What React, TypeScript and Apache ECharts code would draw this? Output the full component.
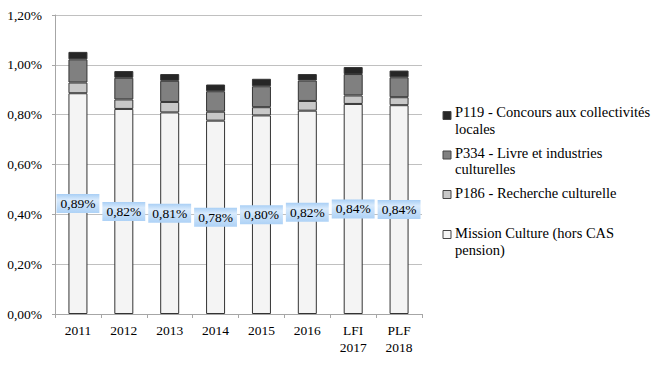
import React, { useEffect, useRef } from "react";
import * as echarts from "echarts";

const categories = ["2011", "2012", "2013", "2014", "2015", "2016", "LFI\n2017", "PLF\n2018"];
const missionCulture = [0.886, 0.823, 0.809, 0.776, 0.797, 0.816, 0.843, 0.838];
const p186 = [0.043, 0.038, 0.042, 0.036, 0.033, 0.039, 0.034, 0.032];
const p334 = [0.093, 0.087, 0.085, 0.082, 0.084, 0.082, 0.086, 0.080];
const p119 = [0.030, 0.027, 0.027, 0.027, 0.030, 0.026, 0.028, 0.027];
const seriesNames = [
  "Mission Culture (hors CAS\npension)",
  "P186 - Recherche culturelle",
  "P334 - Livre et industries\nculturelles",
  "P119 - Concours aux collectivités\nlocales",
];
const seriesColors = ["#f4f4f4", "#c8c8c8", "#808080", "#262626"];
const yTicks = [0, 0.2, 0.4, 0.6, 0.8, 1.0, 1.2];

const FONT = "Liberation Serif";
const fmt = (v: number) => v.toFixed(2).replace(".", ",") + "%";

export default function App() {
  const ref = useRef<HTMLDivElement>(null);
  useEffect(() => {
    document.body.style.margin = "0";
    const chart = echarts.init(ref.current!, null, { renderer: "svg" });
    const values = [missionCulture, p186, p334, p119];
    const series = values.map((d, i) => ({
      name: seriesNames[i],
      type: "bar",
      stack: "total",
      barWidth: 19,
      data: d,
      itemStyle: { color: seriesColors[i], borderColor: "#333333", borderWidth: 1 },
      label:
        i === 0
          ? {
              show: true,
              position: "inside",
              formatter: (p: any) => fmt(p.value),
              fontFamily: FONT,
              fontSize: 13.5,
              color: "#000",
              padding: [3, 4, 2, 4],
              backgroundColor: {
                type: "linear",
                x: 0,
                y: 0,
                x2: 0,
                y2: 1,
                colorStops: [
                  { offset: 0, color: "#a9cff5" },
                  { offset: 0.3, color: "#d8eafc" },
                  { offset: 1, color: "#aed2f6" },
                ],
              },
            }
          : { show: false },
    }));

    const squareCenters = [115.5, 155, 194.5, 234.5];
    const textTops = [104, 144.5, 185, 225];
    const legendRects: any[] = [];
    const legendTitles: any[] = [];
    [3, 2, 1, 0].forEach((si, k) => {
      legendRects.push({
        type: "rect",
        shape: { x: 443, y: squareCenters[k] - 4, width: 8, height: 8 },
        style: { fill: seriesColors[si], stroke: "#444", lineWidth: 1 },
      });
      legendTitles.push({
        text: seriesNames[si],
        left: 455,
        top: textTops[k],
        padding: 0,
        textStyle: {
          fontFamily: FONT,
          fontSize: 14.5,
          fontWeight: "normal",
          color: "#000",
          lineHeight: 16.5,
        },
      });
    });

    chart.setOption({
      animation: false,
      title: legendTitles,
      grid: { left: 55, right: 239, top: 15, bottom: 52 },
      xAxis: {
        type: "category",
        data: categories,
        axisLine: { lineStyle: { color: "#a6a6a6" } },
        axisTick: { show: true, length: 4, lineStyle: { color: "#a6a6a6" } },
        axisLabel: { fontFamily: FONT, fontSize: 13.5, color: "#000", lineHeight: 17, margin: 8 },
      },
      yAxis: {
        type: "value",
        min: yTicks[0],
        max: yTicks[yTicks.length - 1],
        interval: 0.2,
        axisLine: { show: true, lineStyle: { color: "#a6a6a6" } },
        axisTick: { show: true, length: 3, lineStyle: { color: "#a6a6a6" } },
        splitLine: { lineStyle: { color: "#c0c0c0" } },
        axisLabel: { fontFamily: FONT, fontSize: 13.5, color: "#000", margin: 13, formatter: (v: number) => fmt(v) },
      },
      series,
      graphic: legendRects,
    });
    return () => chart.dispose();
  }, []);
  return <div ref={ref} style={{ width: 661, height: 366 }} />;
}
